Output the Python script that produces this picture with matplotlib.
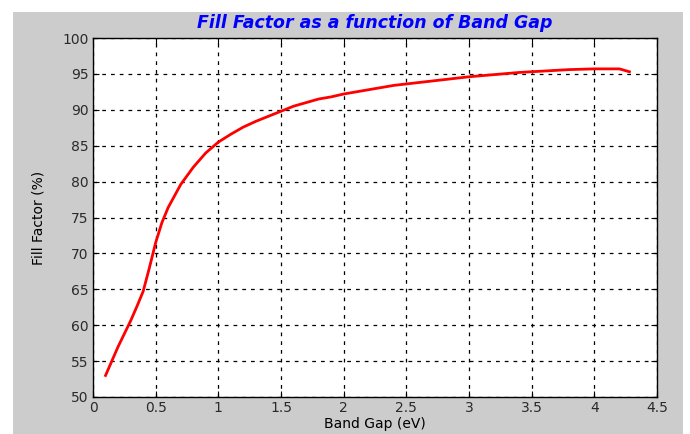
import matplotlib
matplotlib.use("Agg")
import matplotlib.pyplot as plt
from matplotlib.patches import Rectangle

band_gap = [0.10, 0.15, 0.20, 0.25, 0.30, 0.35, 0.40, 0.45, 0.50, 0.55, 0.60, 0.65, 0.70,
            0.80, 0.90, 1.00, 1.10, 1.20, 1.30, 1.40, 1.50, 1.60, 1.70, 1.80, 1.90, 2.00,
            2.20, 2.40, 2.60, 2.80, 3.00, 3.20, 3.40, 3.60, 3.80, 4.00, 4.20, 4.28]
fill_factor = [53.0, 55.0, 57.0, 58.8, 60.6, 62.6, 64.7, 68.0, 71.5, 74.3, 76.4, 78.0, 79.6,
               82.0, 84.0, 85.5, 86.6, 87.6, 88.4, 89.1, 89.8, 90.5, 91.0, 91.5, 91.8, 92.2,
               92.8, 93.4, 93.8, 94.2, 94.6, 94.9, 95.2, 95.4, 95.6, 95.7, 95.7, 95.3]
x_ticks = [0, 0.5, 1, 1.5, 2, 2.5, 3, 3.5, 4, 4.5]
x_tick_labels = ["0", "0.5", "1", "1.5", "2", "2.5", "3", "3.5", "4", "4.5"]
y_ticks = [50, 55, 60, 65, 70, 75, 80, 85, 90, 95, 100]

plt.rcParams['font.family'] = ['DejaVu Sans']

fig = plt.figure(figsize=(6.9, 4.34), dpi=100, facecolor="white")
fig.patches.append(Rectangle((13 / 690, 0), 670 / 690, 1 - 12 / 434,
                             transform=fig.transFigure, facecolor="#cccccc",
                             edgecolor="none", zorder=-10))

ax = fig.add_axes([93 / 690, 1 - 397 / 434, 564 / 690, 359 / 434])
ax.set_zorder(5)
ax.set_facecolor("white")
ax.plot(band_gap, fill_factor, color="#ff0000", linewidth=2)

ax.set_xlim(0, 4.5)
ax.set_ylim(50, 100)
ax.set_xticks(x_ticks)
ax.set_xticklabels(x_tick_labels)
ax.set_yticks(y_ticks)
ax.grid(True, color="black", linestyle=(0, (3, 4)), linewidth=0.9)
ax.tick_params(direction="in", top=True, right=True, length=4, labelsize=10,
               labelcolor="#2a2a2a", pad=3)
for s in ax.spines.values():
    s.set_linewidth(1.0)
    s.set_color("black")

ax.set_title("Fill Factor as a function of Band Gap", color="#0000ff",
             fontsize=12.5, fontweight="bold", fontstyle="italic", pad=7)
ax.set_xlabel("Band Gap (eV)", fontsize=10, fontweight="medium", labelpad=1)
ax.set_ylabel("Fill Factor (%)", fontsize=10, fontweight="medium", labelpad=12)

fig.savefig("out.png", dpi=100, facecolor="white")
